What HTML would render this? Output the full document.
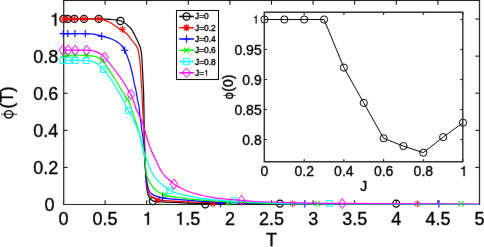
<!DOCTYPE html><html><head><meta charset="utf-8"><style>html,body{margin:0;padding:0;background:#fff;overflow:hidden}svg{display:block}</style></head><body>
<svg width="484" height="247" viewBox="0 0 484 247" style="font-family:'Liberation Sans',sans-serif">
<style>text{stroke:#000;stroke-width:0.35px}use{stroke:#000;stroke-width:18px}</style>
<defs><clipPath id="ca"><rect x="63.5" y="0.5" width="416" height="204"/></clipPath><path id="one" d="M259 -505H102V-568Q204 -581 235 -604Q266 -627 289 -709H347V0H259Z"/></defs>
<filter id="bl" x="0" y="0" width="1" height="1" color-interpolation-filters="sRGB"><feConvolveMatrix order="3" kernelMatrix="0.00163 0.03713 0.00163 0.03713 0.84497 0.03713 0.00163 0.03713 0.00163" divisor="1" edgeMode="duplicate"/></filter><g filter="url(#bl)">
<rect width="484" height="247" fill="#fff"/>
<path d="M63.50,204.5v-4.2M63.50,0.5v4.2M105.10,204.5v-4.2M105.10,0.5v4.2M146.70,204.5v-4.2M146.70,0.5v4.2M188.30,204.5v-4.2M188.30,0.5v4.2M229.90,204.5v-4.2M229.90,0.5v4.2M271.50,204.5v-4.2M271.50,0.5v4.2M313.10,204.5v-4.2M313.10,0.5v4.2M354.70,204.5v-4.2M354.70,0.5v4.2M396.30,204.5v-4.2M396.30,0.5v4.2M437.90,204.5v-4.2M437.90,0.5v4.2M479.50,204.5v-4.2M479.50,0.5v4.2M63.5,204.50h4.2M479.5,204.50h-4.2M63.5,167.41h4.2M479.5,167.41h-4.2M63.5,130.32h4.2M479.5,130.32h-4.2M63.5,93.23h4.2M479.5,93.23h-4.2M63.5,56.14h4.2M479.5,56.14h-4.2M63.5,19.05h4.2M479.5,19.05h-4.2" stroke="#000" stroke-width="1" fill="none"/>
<path d="M63.7,0.5V204.5H479.5V0.5Z" fill="none" stroke="#1e1e1e" stroke-width="1.2"/>
<path clip-path="url(#ca)" d="M63.50,18.90 C69.42,18.90 92.42,18.87 99.00,18.90 C105.58,18.93 101.17,19.02 103.00,19.10 C104.83,19.18 107.85,19.28 110.00,19.40 C112.15,19.52 114.17,19.58 115.90,19.80 C117.63,20.02 118.93,20.15 120.40,20.70 C121.87,21.25 123.43,22.27 124.70,23.10 C125.97,23.93 126.92,24.73 128.00,25.70 C129.08,26.67 130.23,27.62 131.20,28.90 C132.17,30.18 132.93,31.78 133.80,33.40 C134.67,35.02 135.65,37.08 136.40,38.60 C137.15,40.12 137.73,41.27 138.30,42.50 C138.87,43.73 139.35,44.67 139.80,46.00 C140.25,47.33 140.65,48.50 141.00,50.50 C141.35,52.50 141.67,55.08 141.90,58.00 C142.13,60.92 142.23,64.67 142.40,68.00 C142.57,71.33 142.72,74.33 142.90,78.00 C143.08,81.67 143.33,85.33 143.50,90.00 C143.67,94.67 143.78,99.33 143.90,106.00 C144.02,112.67 144.05,122.67 144.20,130.00 C144.35,137.33 144.62,144.17 144.80,150.00 C144.98,155.83 145.12,160.33 145.30,165.00 C145.48,169.67 145.70,174.50 145.90,178.00 C146.10,181.50 146.25,183.67 146.50,186.00 C146.75,188.33 147.03,190.30 147.40,192.00 C147.77,193.70 148.18,195.03 148.70,196.20 C149.22,197.37 149.82,198.22 150.50,199.00 C151.18,199.78 151.55,200.43 152.80,200.90 C154.05,201.37 155.97,201.60 158.00,201.80 C160.03,202.00 162.00,201.98 165.00,202.10 C168.00,202.22 172.17,202.33 176.00,202.50 C179.83,202.67 181.50,202.90 188.00,203.10 C194.50,203.30 203.00,203.53 215.00,203.70 C227.00,203.87 245.83,204.00 260.00,204.10 C274.17,204.20 263.42,204.23 300.00,204.30 C336.58,204.37 449.58,204.47 479.50,204.50" fill="none" stroke="#000" stroke-width="1.2"/>
<circle cx="63.40" cy="18.90" r="3.55" fill="none" stroke="#000" stroke-width="1.25"/>
<circle cx="67.80" cy="18.90" r="3.55" fill="none" stroke="#000" stroke-width="1.25"/>
<circle cx="74.40" cy="18.90" r="3.55" fill="none" stroke="#000" stroke-width="1.25"/>
<circle cx="84.00" cy="18.90" r="3.55" fill="none" stroke="#000" stroke-width="1.25"/>
<circle cx="98.80" cy="18.90" r="3.55" fill="none" stroke="#000" stroke-width="1.25"/>
<circle cx="120.40" cy="21.00" r="3.55" fill="none" stroke="#000" stroke-width="1.25"/>
<circle cx="152.80" cy="201.10" r="3.55" fill="none" stroke="#000" stroke-width="1.25"/>
<circle cx="205.30" cy="204.20" r="3.55" fill="none" stroke="#000" stroke-width="1.25"/>
<circle cx="279.90" cy="203.60" r="3.55" fill="none" stroke="#000" stroke-width="1.25"/>
<circle cx="396.20" cy="203.60" r="3.55" fill="none" stroke="#000" stroke-width="1.25"/>
<path clip-path="url(#ca)" d="M63.50,18.90 C67.92,18.90 84.12,18.88 90.00,18.90 C95.88,18.92 96.63,18.88 98.80,19.00 C100.97,19.12 101.23,19.07 103.00,19.60 C104.77,20.13 107.25,21.08 109.40,22.20 C111.55,23.32 113.95,25.00 115.90,26.30 C117.85,27.60 119.30,28.75 121.10,30.00 C122.90,31.25 125.13,32.38 126.70,33.80 C128.27,35.22 129.37,37.08 130.50,38.50 C131.63,39.92 132.63,41.25 133.50,42.30 C134.37,43.35 135.02,43.77 135.70,44.80 C136.38,45.83 137.10,47.13 137.60,48.50 C138.10,49.87 138.37,51.42 138.70,53.00 C139.03,54.58 139.30,55.50 139.60,58.00 C139.90,60.50 140.27,64.67 140.50,68.00 C140.73,71.33 140.78,74.33 141.00,78.00 C141.22,81.67 141.55,85.33 141.80,90.00 C142.05,94.67 142.23,101.00 142.50,106.00 C142.77,111.00 143.15,116.00 143.40,120.00 C143.65,124.00 143.80,125.00 144.00,130.00 C144.20,135.00 144.40,144.17 144.60,150.00 C144.80,155.83 144.98,160.63 145.20,165.00 C145.42,169.37 145.65,172.87 145.90,176.20 C146.15,179.53 146.35,182.45 146.70,185.00 C147.05,187.55 147.37,189.70 148.00,191.50 C148.63,193.30 149.22,194.62 150.50,195.80 C151.78,196.98 154.40,197.93 155.70,198.60 C157.00,199.27 156.75,199.47 158.30,199.80 C159.85,200.13 162.05,200.35 165.00,200.60 C167.95,200.85 172.17,201.10 176.00,201.30 C179.83,201.50 181.50,201.57 188.00,201.80 C194.50,202.03 204.67,202.45 215.00,202.70 C225.33,202.95 235.83,203.12 250.00,203.30 C264.17,203.48 261.75,203.63 300.00,203.80 C338.25,203.97 449.58,204.22 479.50,204.30" fill="none" stroke="#f00" stroke-width="1.2"/>
<path d="M63.40,15.40v7.00M59.90,18.90h7.00M60.95,16.45l4.90,4.90M60.95,21.35l4.90,-4.90" stroke="#f00" stroke-width="0.95" fill="none"/>
<path d="M67.80,15.40v7.00M64.30,18.90h7.00M65.35,16.45l4.90,4.90M65.35,21.35l4.90,-4.90" stroke="#f00" stroke-width="0.95" fill="none"/>
<path d="M74.40,15.40v7.00M70.90,18.90h7.00M71.95,16.45l4.90,4.90M71.95,21.35l4.90,-4.90" stroke="#f00" stroke-width="0.95" fill="none"/>
<path d="M84.00,15.40v7.00M80.50,18.90h7.00M81.55,16.45l4.90,4.90M81.55,21.35l4.90,-4.90" stroke="#f00" stroke-width="0.95" fill="none"/>
<path d="M98.80,15.40v7.00M95.30,18.90h7.00M96.35,16.45l4.90,4.90M96.35,21.35l4.90,-4.90" stroke="#f00" stroke-width="0.95" fill="none"/>
<path d="M122.50,25.80v7.00M119.00,29.30h7.00M120.05,26.85l4.90,4.90M120.05,31.75l4.90,-4.90" stroke="#f00" stroke-width="0.95" fill="none"/>
<path d="M158.30,196.60v7.00M154.80,200.10h7.00M155.85,197.65l4.90,4.90M155.85,202.55l4.90,-4.90" stroke="#f00" stroke-width="0.95" fill="none"/>
<path d="M213.00,200.50v7.00M209.50,204.00h7.00M210.55,201.55l4.90,4.90M210.55,206.45l4.90,-4.90" stroke="#f00" stroke-width="0.95" fill="none"/>
<path d="M292.70,200.20v7.00M289.20,203.70h7.00M290.25,201.25l4.90,4.90M290.25,206.15l4.90,-4.90" stroke="#f00" stroke-width="0.95" fill="none"/>
<path d="M417.30,200.20v7.00M413.80,203.70h7.00M414.85,201.25l4.90,4.90M414.85,206.15l4.90,-4.90" stroke="#f00" stroke-width="0.95" fill="none"/>
<path clip-path="url(#ca)" d="M63.50,33.60 C67.08,33.60 79.75,33.48 85.00,33.60 C90.25,33.72 92.22,33.87 95.00,34.30 C97.78,34.73 99.30,35.57 101.70,36.20 C104.10,36.83 107.03,37.27 109.40,38.10 C111.77,38.93 114.30,40.33 115.90,41.20 C117.50,42.07 117.98,42.50 119.00,43.30 C120.02,44.10 121.07,44.85 122.00,46.00 C122.93,47.15 123.85,48.78 124.60,50.20 C125.35,51.62 125.87,52.97 126.50,54.50 C127.13,56.03 127.82,57.73 128.40,59.40 C128.98,61.07 129.48,62.73 130.00,64.50 C130.52,66.27 130.97,67.75 131.50,70.00 C132.03,72.25 132.70,75.57 133.20,78.00 C133.70,80.43 134.05,82.60 134.50,84.60 C134.95,86.60 135.40,87.43 135.90,90.00 C136.40,92.57 137.00,97.33 137.50,100.00 C138.00,102.67 138.48,103.37 138.90,106.00 C139.32,108.63 139.52,111.80 140.00,115.80 C140.48,119.80 141.25,125.97 141.80,130.00 C142.35,134.03 142.90,136.97 143.30,140.00 C143.70,143.03 143.95,144.87 144.20,148.20 C144.45,151.53 144.58,156.33 144.80,160.00 C145.02,163.67 145.18,166.87 145.50,170.20 C145.82,173.53 146.30,177.15 146.70,180.00 C147.10,182.85 147.37,185.30 147.90,187.30 C148.43,189.30 149.22,190.88 149.90,192.00 C150.58,193.12 151.15,193.37 152.00,194.00 C152.85,194.63 153.83,195.32 155.00,195.80 C156.17,196.28 157.75,196.57 159.00,196.90 C160.25,197.23 160.67,197.48 162.50,197.80 C164.33,198.12 167.75,198.53 170.00,198.80 C172.25,199.07 172.67,199.13 176.00,199.40 C179.33,199.67 183.50,199.97 190.00,200.40 C196.50,200.83 205.00,201.53 215.00,202.00 C225.00,202.47 239.17,202.90 250.00,203.20 C260.83,203.50 268.33,203.62 280.00,203.80 C291.67,203.98 286.75,204.18 320.00,204.30 C353.25,204.42 452.92,204.47 479.50,204.50" fill="none" stroke="#00f" stroke-width="1.2"/>
<path d="M63.30,29.90v7.40M59.60,33.60h7.40" stroke="#00f" stroke-width="1.1" fill="none"/>
<path d="M67.80,29.90v7.40M64.10,33.60h7.40" stroke="#00f" stroke-width="1.1" fill="none"/>
<path d="M74.90,29.90v7.40M71.20,33.60h7.40" stroke="#00f" stroke-width="1.1" fill="none"/>
<path d="M85.30,29.90v7.40M81.60,33.60h7.40" stroke="#00f" stroke-width="1.1" fill="none"/>
<path d="M101.70,32.60v7.40M98.00,36.30h7.40" stroke="#00f" stroke-width="1.1" fill="none"/>
<path d="M124.70,46.50v7.40M121.00,50.20h7.40" stroke="#00f" stroke-width="1.1" fill="none"/>
<path d="M162.50,194.10v7.40M158.80,197.80h7.40" stroke="#00f" stroke-width="1.1" fill="none"/>
<path d="M220.40,199.80v7.40M216.70,203.50h7.40" stroke="#00f" stroke-width="1.1" fill="none"/>
<path d="M304.80,200.00v7.40M301.10,203.70h7.40" stroke="#00f" stroke-width="1.1" fill="none"/>
<path d="M438.90,200.00v7.40M435.20,203.70h7.40" stroke="#00f" stroke-width="1.1" fill="none"/>
<path clip-path="url(#ca)" d="M63.50,55.30 C67.08,55.30 79.75,55.13 85.00,55.30 C90.25,55.47 92.22,55.60 95.00,56.30 C97.78,57.00 100.03,58.30 101.70,59.50 C103.37,60.70 103.88,61.93 105.00,63.50 C106.12,65.07 106.90,66.57 108.40,68.90 C109.90,71.23 112.15,74.53 114.00,77.50 C115.85,80.47 117.83,83.95 119.50,86.70 C121.17,89.45 122.70,91.95 124.00,94.00 C125.30,96.05 126.30,97.25 127.30,99.00 C128.30,100.75 129.00,101.90 130.00,104.50 C131.00,107.10 132.30,111.60 133.30,114.60 C134.30,117.60 135.18,120.10 136.00,122.50 C136.82,124.90 137.52,126.58 138.20,129.00 C138.88,131.42 139.40,134.40 140.10,137.00 C140.80,139.60 141.82,142.10 142.40,144.60 C142.98,147.10 143.22,149.77 143.60,152.00 C143.98,154.23 144.32,154.97 144.70,158.00 C145.08,161.03 145.52,167.20 145.90,170.20 C146.28,173.20 146.58,174.38 147.00,176.00 C147.42,177.62 147.43,178.07 148.40,179.90 C149.37,181.73 151.20,185.02 152.80,187.00 C154.40,188.98 156.08,190.53 158.00,191.80 C159.92,193.07 162.30,193.85 164.30,194.60 C166.30,195.35 168.00,195.87 170.00,196.30 C172.00,196.73 173.80,196.87 176.30,197.20 C178.80,197.53 182.17,197.95 185.00,198.30 C187.83,198.65 190.80,199.05 193.30,199.30 C195.80,199.55 196.38,199.52 200.00,199.80 C203.62,200.08 205.83,200.48 215.00,201.00 C224.17,201.52 244.17,202.45 255.00,202.90 C265.83,203.35 270.83,203.48 280.00,203.70 C289.17,203.92 276.75,204.07 310.00,204.20 C343.25,204.33 451.25,204.45 479.50,204.50" fill="none" stroke="#0f0" stroke-width="1.2"/>
<path d="M60.70,52.70l5.20,5.20M60.70,57.90l5.20,-5.20" stroke="#0f0" stroke-width="1.1" fill="none"/>
<path d="M65.40,52.70l5.20,5.20M65.40,57.90l5.20,-5.20" stroke="#0f0" stroke-width="1.1" fill="none"/>
<path d="M72.40,52.70l5.20,5.20M72.40,57.90l5.20,-5.20" stroke="#0f0" stroke-width="1.1" fill="none"/>
<path d="M83.90,52.90l5.20,5.20M83.90,58.10l5.20,-5.20" stroke="#0f0" stroke-width="1.1" fill="none"/>
<path d="M99.40,58.40l5.20,5.20M99.40,63.60l5.20,-5.20" stroke="#0f0" stroke-width="1.1" fill="none"/>
<path d="M124.70,96.40l5.20,5.20M124.70,101.60l5.20,-5.20" stroke="#0f0" stroke-width="1.1" fill="none"/>
<path d="M162.30,192.20l5.20,5.20M162.30,197.40l5.20,-5.20" stroke="#0f0" stroke-width="1.1" fill="none"/>
<path d="M225.20,200.30l5.20,5.20M225.20,205.50l5.20,-5.20" stroke="#0f0" stroke-width="1.1" fill="none"/>
<path d="M314.90,201.10l5.20,5.20M314.90,206.30l5.20,-5.20" stroke="#0f0" stroke-width="1.1" fill="none"/>
<path d="M458.60,201.10l5.20,5.20M458.60,206.30l5.20,-5.20" stroke="#0f0" stroke-width="1.1" fill="none"/>
<path clip-path="url(#ca)" d="M63.50,60.50 C67.08,60.50 80.25,60.37 85.00,60.50 C89.75,60.63 90.00,60.80 92.00,61.30 C94.00,61.80 95.20,62.23 97.00,63.50 C98.80,64.77 101.22,67.23 102.80,68.90 C104.38,70.57 105.20,71.83 106.50,73.50 C107.80,75.17 109.18,76.82 110.60,78.90 C112.02,80.98 113.52,83.58 115.00,86.00 C116.48,88.42 118.00,90.82 119.50,93.40 C121.00,95.98 122.92,99.40 124.00,101.50 C125.08,103.60 125.27,104.43 126.00,106.00 C126.73,107.57 127.57,109.32 128.40,110.90 C129.23,112.48 130.18,114.08 131.00,115.50 C131.82,116.92 132.55,117.90 133.30,119.40 C134.05,120.90 134.75,122.73 135.50,124.50 C136.25,126.27 136.97,127.75 137.80,130.00 C138.63,132.25 139.83,135.57 140.50,138.00 C141.17,140.43 141.22,142.27 141.80,144.60 C142.38,146.93 143.25,149.77 144.00,152.00 C144.75,154.23 145.37,155.38 146.30,158.00 C147.23,160.62 148.65,165.28 149.60,167.70 C150.55,170.12 151.10,170.90 152.00,172.50 C152.90,174.10 153.93,175.82 155.00,177.30 C156.07,178.78 157.23,180.20 158.40,181.40 C159.57,182.60 160.73,183.47 162.00,184.50 C163.27,185.53 164.37,186.47 166.00,187.60 C167.63,188.73 169.13,190.12 171.80,191.30 C174.47,192.48 177.47,193.57 182.00,194.70 C186.53,195.83 193.50,197.25 199.00,198.10 C204.50,198.95 209.50,199.32 215.00,199.80 C220.50,200.28 225.33,200.60 232.00,201.00 C238.67,201.40 247.00,201.82 255.00,202.20 C263.00,202.58 270.83,203.00 280.00,203.30 C289.17,203.60 276.75,203.82 310.00,204.00 C343.25,204.18 451.25,204.33 479.50,204.40" fill="none" stroke="#0ff" stroke-width="1.2"/>
<rect x="60.00" y="57.70" width="5.60" height="5.60" fill="none" stroke="#0ff" stroke-width="1"/>
<rect x="65.70" y="57.70" width="5.60" height="5.60" fill="none" stroke="#0ff" stroke-width="1"/>
<rect x="72.50" y="57.70" width="5.60" height="5.60" fill="none" stroke="#0ff" stroke-width="1"/>
<rect x="83.40" y="57.80" width="5.60" height="5.60" fill="none" stroke="#0ff" stroke-width="1"/>
<rect x="100.40" y="66.70" width="5.60" height="5.60" fill="none" stroke="#0ff" stroke-width="1"/>
<rect x="125.60" y="107.70" width="5.60" height="5.60" fill="none" stroke="#0ff" stroke-width="1"/>
<rect x="166.80" y="188.00" width="5.60" height="5.60" fill="none" stroke="#0ff" stroke-width="1"/>
<rect x="231.20" y="197.80" width="5.60" height="5.60" fill="none" stroke="#0ff" stroke-width="1"/>
<rect x="326.70" y="200.50" width="5.60" height="5.60" fill="none" stroke="#0ff" stroke-width="1"/>
<path clip-path="url(#ca)" d="M63.50,50.20 C67.42,50.20 81.75,50.02 87.00,50.20 C92.25,50.38 92.83,50.73 95.00,51.30 C97.17,51.87 98.45,52.68 100.00,53.60 C101.55,54.52 102.55,54.98 104.30,56.80 C106.05,58.62 108.33,61.73 110.50,64.50 C112.67,67.27 115.38,70.82 117.30,73.40 C119.22,75.98 120.52,77.78 122.00,80.00 C123.48,82.22 125.03,84.78 126.20,86.70 C127.37,88.62 128.22,90.20 129.00,91.50 C129.78,92.80 130.18,93.08 130.90,94.50 C131.62,95.92 132.50,97.75 133.30,100.00 C134.10,102.25 134.92,105.83 135.70,108.00 C136.48,110.17 137.18,111.33 138.00,113.00 C138.82,114.67 139.85,116.42 140.60,118.00 C141.35,119.58 141.82,120.50 142.50,122.50 C143.18,124.50 143.95,127.42 144.70,130.00 C145.45,132.58 146.27,135.57 147.00,138.00 C147.73,140.43 148.35,142.43 149.10,144.60 C149.85,146.77 150.55,148.77 151.50,151.00 C152.45,153.23 153.87,156.00 154.80,158.00 C155.73,160.00 156.37,161.42 157.10,163.00 C157.83,164.58 158.50,166.17 159.20,167.50 C159.90,168.83 160.58,169.83 161.30,171.00 C162.02,172.17 162.68,173.45 163.50,174.50 C164.32,175.55 165.28,176.42 166.20,177.30 C167.12,178.18 168.12,179.07 169.00,179.80 C169.88,180.53 170.67,180.97 171.50,181.70 C172.33,182.43 173.20,183.53 174.00,184.20 C174.80,184.87 175.30,185.15 176.30,185.70 C177.30,186.25 178.10,186.57 180.00,187.50 C181.90,188.43 184.53,190.10 187.70,191.30 C190.87,192.50 194.45,193.60 199.00,194.70 C203.55,195.80 207.92,196.95 215.00,197.90 C222.08,198.85 234.83,199.80 241.50,200.40 C248.17,201.00 250.25,201.23 255.00,201.50 C259.75,201.77 262.50,201.77 270.00,202.00 C277.50,202.23 290.00,202.68 300.00,202.90 C310.00,203.12 313.33,203.18 330.00,203.30 C346.67,203.42 375.08,203.48 400.00,203.60 C424.92,203.72 466.25,203.93 479.50,204.00" fill="none" stroke="#f0f" stroke-width="1.2"/>
<path d="M62.80,45.10L66.50,50.20L62.80,55.30L59.10,50.20Z" fill="none" stroke="#f0f" stroke-width="1"/>
<path d="M68.20,45.10L71.90,50.20L68.20,55.30L64.50,50.20Z" fill="none" stroke="#f0f" stroke-width="1"/>
<path d="M75.20,45.10L78.90,50.20L75.20,55.30L71.50,50.20Z" fill="none" stroke="#f0f" stroke-width="1"/>
<path d="M86.60,45.10L90.30,50.20L86.60,55.30L82.90,50.20Z" fill="none" stroke="#f0f" stroke-width="1"/>
<path d="M104.50,52.10L108.20,57.20L104.50,62.30L100.80,57.20Z" fill="none" stroke="#f0f" stroke-width="1"/>
<path d="M130.90,89.40L134.60,94.50L130.90,99.60L127.20,94.50Z" fill="none" stroke="#f0f" stroke-width="1"/>
<path d="M174.00,179.10L177.70,184.20L174.00,189.30L170.30,184.20Z" fill="none" stroke="#f0f" stroke-width="1"/>
<path d="M241.50,195.30L245.20,200.40L241.50,205.50L237.80,200.40Z" fill="none" stroke="#f0f" stroke-width="1"/>
<path d="M342.20,198.50L345.90,203.60L342.20,208.70L338.50,203.60Z" fill="none" stroke="#f0f" stroke-width="1"/>
<text x="58.49" y="224.70" font-size="18">0</text>
<text x="92.62" y="224.70" font-size="18">0.5</text>
<use href="#one" transform="translate(142.66,224.70) scale(0.01800)"/>
<use href="#one" transform="translate(175.25,224.70) scale(0.01800)"/><text x="185.26" y="224.70" font-size="18">.5</text>
<text x="224.89" y="224.70" font-size="18">2</text>
<text x="258.91" y="224.70" font-size="18">2.5</text>
<text x="308.15" y="224.70" font-size="18">3</text>
<text x="342.22" y="224.70" font-size="18">3.5</text>
<text x="391.35" y="224.70" font-size="18">4</text>
<text x="425.56" y="224.70" font-size="18">4.5</text>
<text x="474.51" y="224.70" font-size="18">5</text>
<text x="44.60" y="211.20" font-size="18">0</text>
<text x="33.30" y="174.11" font-size="18">0.2</text>
<text x="33.30" y="137.02" font-size="18">0.4</text>
<text x="33.30" y="99.93" font-size="18">0.6</text>
<text x="33.30" y="62.84" font-size="18">0.8</text>
<use href="#one" transform="translate(50.05,25.75) scale(0.01800)"/>
<text x="271.5" y="246.1" font-size="18" text-anchor="middle">T</text>
<text transform="translate(13,102) rotate(-90)" font-size="18" text-anchor="middle"><tspan dx="-1.3" dy="0.8" style="fill:none;stroke:none">ϕ</tspan><tspan dx="1.3" dy="-0.8">(T</tspan><tspan dx="-0.5">)</tspan></text>
<ellipse cx="8.7" cy="114.35" rx="4.1" ry="3.75" fill="none" stroke="#000" stroke-width="1.45"/>
<path d="M1.1,114.2H17.1" stroke="#000" stroke-width="0.85"/>
<rect x="176.5" y="10.5" width="42" height="69" fill="#fff" stroke="#000" stroke-width="1"/>
<path d="M179.2,16.45H193.9" stroke="#000" stroke-width="1.5"/>
<circle cx="186.50" cy="16.45" r="3.55" fill="none" stroke="#000" stroke-width="1.25"/>
<text x="195.00" y="19.45" font-size="8.4" style="stroke-width:0.38px">J=0</text>
<path d="M179.2,27.72H193.9" stroke="#f00" stroke-width="1.5"/>
<path d="M186.50,24.12v7.20M182.90,27.72h7.20M183.98,25.20l5.04,5.04M183.98,30.24l5.04,-5.04" stroke="#f00" stroke-width="1.3" fill="none"/>
<text x="195.00" y="30.72" font-size="8.4" style="stroke-width:0.38px">J=0.2</text>
<path d="M179.2,38.99H193.9" stroke="#00f" stroke-width="1.5"/>
<path d="M186.50,35.29v7.40M182.80,38.99h7.40" stroke="#00f" stroke-width="1.1" fill="none"/>
<text x="195.00" y="41.99" font-size="8.4" style="stroke-width:0.38px">J=0.4</text>
<path d="M179.2,50.26H193.9" stroke="#0f0" stroke-width="1.5"/>
<path d="M183.90,47.66l5.20,5.20M183.90,52.86l5.20,-5.20" stroke="#0f0" stroke-width="1.1" fill="none"/>
<text x="195.00" y="53.26" font-size="8.4" style="stroke-width:0.38px">J=0.6</text>
<path d="M179.2,61.53H193.9" stroke="#0ff" stroke-width="1.5"/>
<rect x="183.70" y="58.73" width="5.60" height="5.60" fill="none" stroke="#0ff" stroke-width="1"/>
<text x="195.00" y="64.53" font-size="8.4" style="stroke-width:0.38px">J=0.8</text>
<path d="M179.2,72.80H193.9" stroke="#f0f" stroke-width="1.5"/>
<path d="M186.50,67.90L190.60,72.80L186.50,77.70L182.40,72.80Z" fill="none" stroke="#f0f" stroke-width="1"/>
<text x="195.00" y="75.80" font-size="8.4" style="stroke-width:0.38px">J=</text><use href="#one" transform="translate(204.11,75.80) scale(0.00840)"/>
<rect x="264.5" y="12.5" width="198.5" height="149" fill="#fff" stroke="none"/>
<path d="M264.50,161.5v-2.4M264.50,12.5v2.4M304.20,161.5v-2.4M304.20,12.5v2.4M343.90,161.5v-2.4M343.90,12.5v2.4M383.60,161.5v-2.4M383.60,12.5v2.4M423.30,161.5v-2.4M423.30,12.5v2.4M463.00,161.5v-2.4M463.00,12.5v2.4M264.5,139.50h2.4M462.8,139.50h-2.4M264.5,109.50h2.4M462.8,109.50h-2.4M264.5,79.50h2.4M462.8,79.50h-2.4M264.5,49.50h2.4M462.8,49.50h-2.4M264.5,19.50h2.4M462.8,19.50h-2.4" stroke="#000" stroke-width="1" fill="none"/>
<path d="M264.50,19.50 L284.35,19.50 L304.20,19.50 L324.05,19.50 L343.90,67.62 L363.75,102.90 L383.60,138.30 L403.45,146.10 L423.30,152.70 L443.15,137.10 L463.00,122.70" fill="none" stroke="#000" stroke-width="1"/>
<circle cx="264.50" cy="19.50" r="3.6" fill="none" stroke="#000" stroke-width="1"/>
<circle cx="284.35" cy="19.50" r="3.6" fill="none" stroke="#000" stroke-width="1"/>
<circle cx="304.20" cy="19.50" r="3.6" fill="none" stroke="#000" stroke-width="1"/>
<circle cx="324.05" cy="19.50" r="3.6" fill="none" stroke="#000" stroke-width="1"/>
<circle cx="343.90" cy="67.62" r="3.6" fill="none" stroke="#000" stroke-width="1"/>
<circle cx="363.75" cy="102.90" r="3.6" fill="none" stroke="#000" stroke-width="1"/>
<circle cx="383.60" cy="138.30" r="3.6" fill="none" stroke="#000" stroke-width="1"/>
<circle cx="403.45" cy="146.10" r="3.6" fill="none" stroke="#000" stroke-width="1"/>
<circle cx="423.30" cy="152.70" r="3.6" fill="none" stroke="#000" stroke-width="1"/>
<circle cx="443.15" cy="137.10" r="3.6" fill="none" stroke="#000" stroke-width="1"/>
<circle cx="463.00" cy="122.70" r="3.6" fill="none" stroke="#000" stroke-width="1"/>
<path d="M264.3,161.8V12.3H462.8V161.8Z" fill="none" stroke="#2a2a2a" stroke-width="1.4"/>
<text x="260.61" y="176.00" font-size="14">0</text>
<text x="294.55" y="176.00" font-size="14">0.2</text>
<text x="334.10" y="176.00" font-size="14">0.4</text>
<text x="373.90" y="176.00" font-size="14">0.6</text>
<text x="413.60" y="176.00" font-size="14">0.8</text>
<use href="#one" transform="translate(459.86,176.00) scale(0.01400)"/>
<text x="242.24" y="144.50" font-size="14">0.8</text>
<text x="234.45" y="114.50" font-size="14">0.85</text>
<text x="242.24" y="84.50" font-size="14">0.9</text>
<text x="234.45" y="54.50" font-size="14">0.95</text>
<use href="#one" transform="translate(252.70,23.60) scale(0.01150)"/>
<text x="363.7" y="191.3" font-size="14" text-anchor="middle">J</text>
<text transform="translate(232.7,87) rotate(-90)" font-size="14" text-anchor="middle"><tspan style="fill:none;stroke:none">ϕ</tspan>(0)</text>
<ellipse cx="229.5" cy="95.7" rx="3.15" ry="2.65" fill="none" stroke="#000" stroke-width="1.2"/>
<path d="M223.4,95.35H235.6" stroke="#000" stroke-width="0.75"/>
</g></svg></body></html>
